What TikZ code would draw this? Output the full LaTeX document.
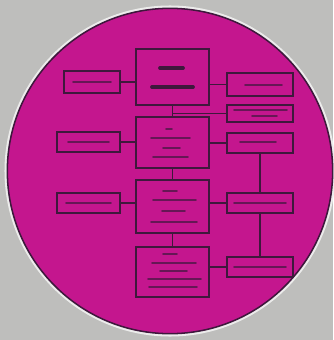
\documentclass[tikz,border=0pt]{standalone}
\usepackage{tikz}
\usetikzlibrary{calc}
\definecolor{paper}{RGB}{190,190,188}
\definecolor{plate}{RGB}{196,22,142}
\definecolor{ink}{RGB}{62,24,60}
\tikzset{
	mainbox/.style={draw=ink, line width=1.8pt, minimum width=2.19cm, inner sep=0pt},
	sidebox/.style={draw=ink, line width=1.8pt, minimum width=1.98cm, inner sep=0pt},
	link/.style={draw=ink, line width=1.4pt},
	scribble/.style={draw=ink!70!plate, line width=1.4pt, line cap=round},
	heading/.style={draw=ink, line width=3.2pt, line cap=round}
}
\def\scrawl[#1](#2:#3:#4){\draw[#1] (#2,#4) -- (#3,#4);}

\begin{document}
\begin{tikzpicture}[x=0.03cm, y=-0.03cm]
			%%%%% START %%%%%
			
			\fill[paper] (0, 0) rectangle (333, 340);
			\useasboundingbox (0, 0) rectangle (333, 340);
			
			\draw[white!70!paper, line width=2pt] (170, 171) circle (4.93cm);
			\draw[fill=plate, draw=ink, line width=1.3pt] (170, 171) circle (4.88cm);
			
			% middle column
			\node[mainbox, minimum height=1.68cm] (plan) at (172.5, 77) {};
			\node[mainbox, minimum height=1.53cm] (stage) at (172.5, 142.5) {};
			\node[mainbox, minimum height=1.59cm] (build) at (172.5, 206.5) {};
			\node[mainbox, minimum height=1.50cm] (check) at (172.5, 272) {};
			
			% left column
			\node[sidebox, minimum width=1.68cm, minimum height=0.66cm] (inA) at (92, 82) {};
			\node[sidebox, minimum width=1.89cm, minimum height=0.60cm] (inB) at (88.5, 142) {};
			\node[sidebox, minimum width=1.89cm, minimum height=0.60cm] (inC) at (88.5, 203) {};
			
			% right column
			\node[sidebox, minimum height=0.69cm] (outA) at (260, 84.5) {};
			\node[sidebox, minimum height=0.51cm] (outB) at (260, 113.5) {};
			\node[sidebox, minimum height=0.60cm] (outC) at (260, 143) {};
			\node[sidebox, minimum height=0.60cm] (outD) at (260, 203) {};
			\node[sidebox, minimum height=0.60cm] (outE) at (260, 267) {};
			
			% connectors
			\draw[link] (inA.east) -- (inA.east -| plan.west);
			\draw[link] (outA.west -| plan.east) -- (outA.west);
			\draw[link] (plan.south) -- (stage.north);
			\draw[link] (plan.south |- outB.west) -- (outB.west);
			\draw[link] (inB.east) -- (inB.east -| stage.west);
			\draw[link] (outC.west -| stage.east) -- (outC.west);
			\draw[link] (stage.south) -- (build.north);
			\draw[link] (inC.east) -- (inC.east -| build.west);
			\draw[link] (outD.west -| build.east) -- (outD.west);
			\draw[link] (build.south) -- (check.north);
			\draw[link] (outE.west -| check.east) -- (outE.west);
			\draw[link] (outC.south) -- (outD.north);
			\draw[link] (outD.south) -- (outE.north);
			
			% unreadable lettering
			\scrawl[heading](160:183:68);
			\scrawl[heading](152:193:87);
			
			\scrawl[scribble](166:172:129);
			\scrawl[scribble](151:190:138);
			\scrawl[scribble](163:180:148);
			\scrawl[scribble](153:188:157);
			
			\scrawl[scribble](163:177:191);
			\scrawl[scribble](153:196:200);
			\scrawl[scribble](162:185:211);
			\scrawl[scribble](151:197:222);
			
			\scrawl[scribble](163:177:254);
			\scrawl[scribble](152:196:263);
			\scrawl[scribble](160:187:271);
			\scrawl[scribble](148:201:279);
			\scrawl[scribble](149:197:287);
			
			\scrawl[scribble](73:111:82);
			\scrawl[scribble](68:109:142);
			\scrawl[scribble](66:111:203);
			
			\scrawl[scribble](245:282:85);
			\scrawl[scribble](234:287:110);
			\scrawl[scribble](252:277:116);
			\scrawl[scribble](240:276:142);
			\scrawl[scribble](234:286:203);
			\scrawl[scribble](234:286:267);
			
			%%%%% END %%%%%
		\end{tikzpicture}
\end{document}
